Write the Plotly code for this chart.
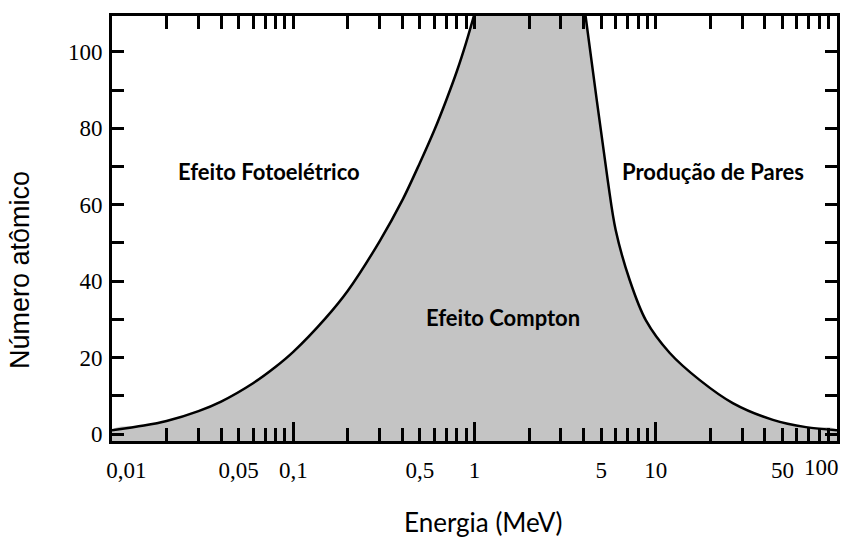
import math
import plotly.graph_objects as go

# Boundary: photoelectric = Compton (energy MeV, atomic number Z)
left_E = [0.01, 0.015, 0.02, 0.03, 0.04, 0.06, 0.08, 0.1, 0.15, 0.2, 0.3, 0.4, 0.5, 0.6, 0.7, 0.8, 0.9, 1.0]
left_Z = [1.0, 2.2, 3.4, 6.0, 8.5, 13.3, 17.6, 21.5, 30.2, 37.5, 50.5, 61.2, 71.0, 79.5, 87.5, 95.0, 102.5, 110.0]

# Boundary: Compton = pair production
right_E = [4.0, 4.1, 5.43, 6.01, 7.18, 8.81, 11.95, 17.5, 26.6, 44.3, 67.4, 100.0]
right_Z = [113.0, 109.4, 66.5, 53.4, 40.3, 29.8, 21.2, 14.1, 8.1, 3.7, 1.8, 1.0]

x_tick_vals = [0.01, 0.05, 0.1, 0.5, 1, 5, 10, 50, 100]
x_tick_text = ["0,01", "0,05", "0,1", "0,5", "1", "5", "10", "50", "100"]
x_minor_vals = [m * d for d in [0.01, 0.1, 1, 10] for m in range(2, 10)]
x_decades = [0.01, 0.1, 1, 10, 100]
y_tick_vals = [0, 20, 40, 60, 80, 100]
y_minor_vals = [10, 30, 50, 70, 90]

labels = ["Efeito Fotoelétrico", "Produção de Pares", "Efeito Compton"]
label_E = [0.0736, 20.6, 1.43]
label_Z = [68.6, 68.6, 30.4]

Y_MIN, Y_MAX = -1.83, 109.4

axis_font = dict(family="Liberation Serif", size=23, color="black")

# first label padded so it sits inside the frame; last label drawn as an annotation, right-aligned
ticktext = list(x_tick_text)
ticktext[0] = "\u00a0" * 5 + ticktext[0]
ticktext[-1] = ""

# polygon: right boundary (top->bottom), along the bottom, left boundary (bottom->top)
poly_x = right_E + [right_E[-1], left_E[0]] + left_E
poly_y = right_Z + [Y_MIN - 6, Y_MIN - 6] + left_Z

fig = go.Figure()
fig.add_trace(go.Scatter(x=poly_x, y=poly_y, fill="toself", mode="none",
                         line=dict(shape="spline", smoothing=0.9),
                         fillcolor="#c4c4c4", hoverinfo="skip", showlegend=False))
for xs, ys in [(left_E, left_Z), (right_E, right_Z)]:
    fig.add_trace(go.Scatter(x=xs, y=ys, mode="lines",
                             line=dict(color="black", width=2.5, shape="spline", smoothing=0.9),
                             showlegend=False, xaxis="x2", hoverinfo="skip"))

for t, e, z in zip(labels, label_E, label_Z):
    fig.add_annotation(x=math.log10(e), y=z, text=t, showarrow=False,
                       font=dict(family="Lato", size=22, color="black", weight="bold"))

fig.add_annotation(x=math.log10(x_tick_vals[-1]), yref="paper", y=-0.028, text=x_tick_text[-1],
                   showarrow=False, xanchor="right", yanchor="top", xshift=4, font=axis_font)

fig.add_annotation(xref="paper", yref="paper", x=0.512, y=-0.19, text="Energia (MeV)", showarrow=False,
                   font=dict(family="Lato", size=26, color="black"), xanchor="center", yanchor="middle")
fig.add_annotation(xref="paper", yref="paper", x=-0.127, y=0.402, text="Número atômico", showarrow=False,
                   textangle=-90, font=dict(family="Liberation Sans", size=27, color="black"),
                   xanchor="center", yanchor="middle")

fig.update_layout(
    width=843, height=538,
    margin=dict(l=112, r=6, t=16, b=97),
    plot_bgcolor="white", paper_bgcolor="white",
    xaxis=dict(type="log", range=[-2, 2], tickmode="array", tickvals=x_tick_vals, ticktext=ticktext,
               ticks="inside", ticklen=13, tickwidth=3, tickcolor="black", showgrid=False, zeroline=False,
               showline=True, linewidth=3, linecolor="black", mirror="allticks", tickfont=axis_font,
               ticklabelstandoff=6, ticklabeloverflow="allow", automargin=False,
               minor=dict(tickmode="array", tickvals=x_minor_vals, ticks="inside", ticklen=13, tickwidth=3,
                          tickcolor="black", showgrid=False)),
    xaxis2=dict(type="log", range=[-2, 2], overlaying="x", anchor="y", side="bottom", tickmode="array",
                tickvals=x_decades, ticks="inside", ticklen=19, tickwidth=3, tickcolor="black",
                showticklabels=False, showgrid=False, zeroline=False, showline=False),
    yaxis=dict(range=[Y_MIN, Y_MAX], tickmode="array", tickvals=y_tick_vals, ticks="inside", ticklen=12,
               tickwidth=3, tickcolor="black", showgrid=False, zeroline=False, showline=True, linewidth=3,
               linecolor="black", mirror="allticks", tickfont=axis_font, automargin=False,
               ticklabelstandoff=2,
               minor=dict(tickmode="array", tickvals=y_minor_vals, ticks="inside", ticklen=12, tickwidth=3,
                          tickcolor="black", showgrid=False)),
)

fig.write_html("out.html")
